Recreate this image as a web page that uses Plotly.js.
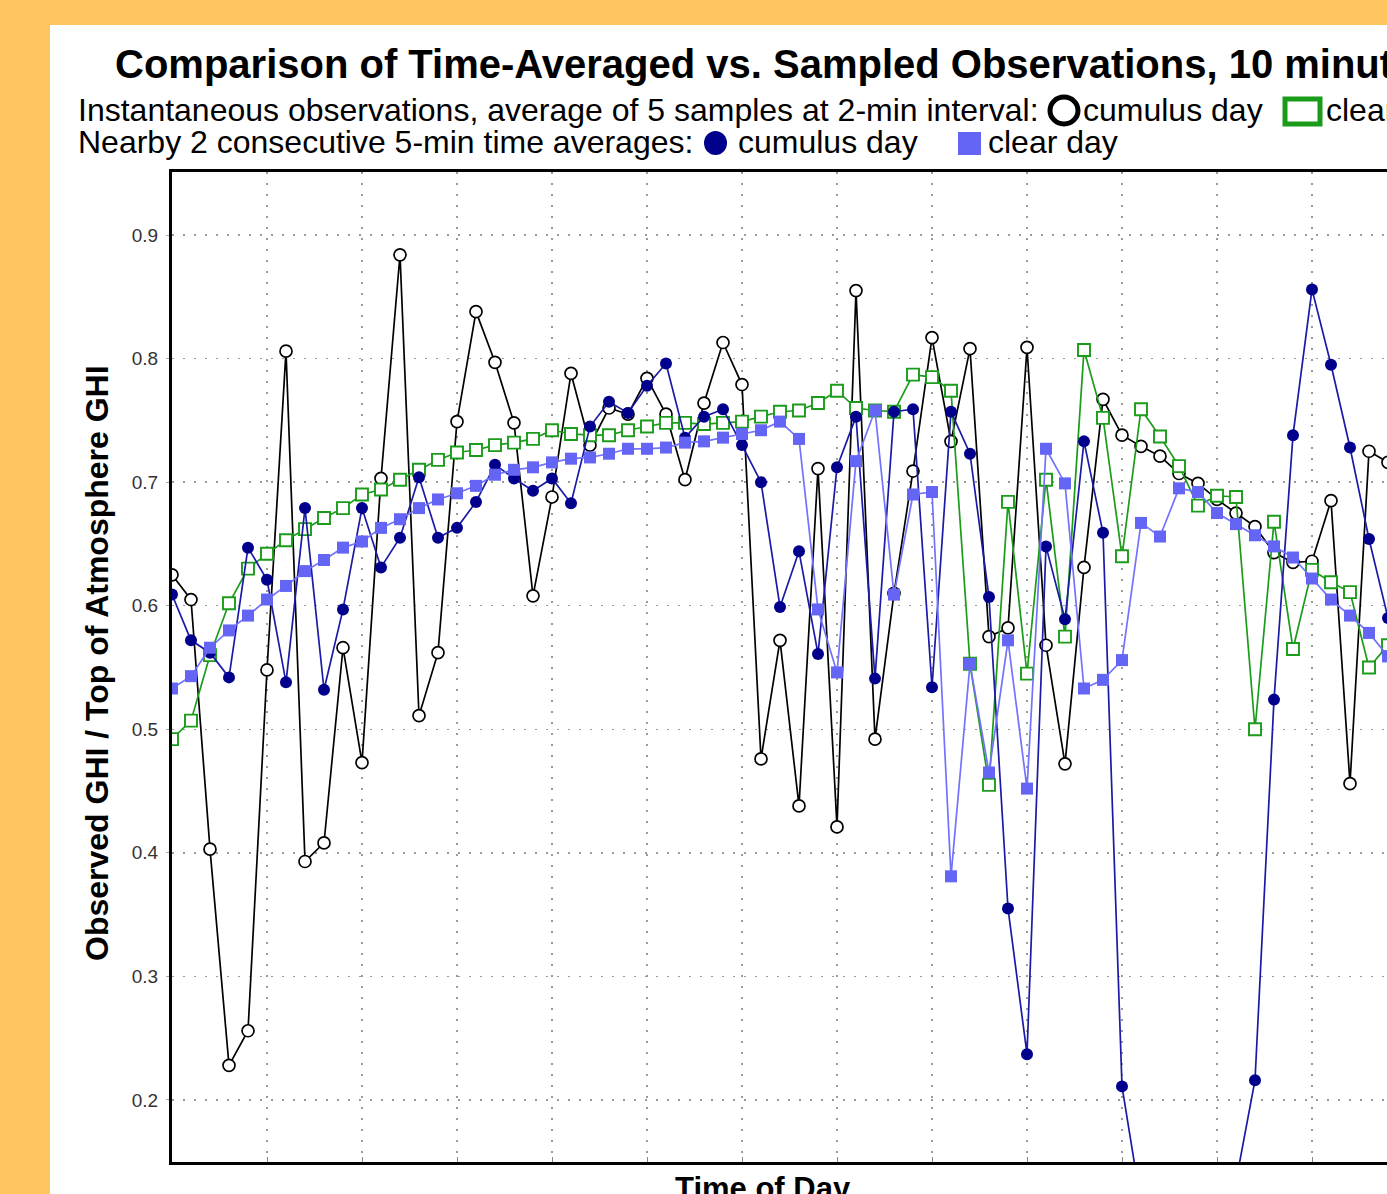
<!DOCTYPE html>
<html><head><meta charset="utf-8">
<script src="https://cdn.plot.ly/plotly-3.0.1.min.js"></script>
<style>
html,body{margin:0;padding:0;overflow:hidden;background:#FFC660;width:1387px;height:1194px;}
#panel{position:absolute;left:50px;top:25px;width:1337px;height:1169px;background:#fff;overflow:hidden;}
#chart{position:absolute;left:0;top:0;width:1370px;height:1169px;}
</style></head><body><div id="panel"><div id="chart"></div></div>
<script>
// minutes since start of window (2-min sampling)
const minutes = [0,2,4,6,8,10,12,14,16,18,20,22,24,26,28,30,32,34,36,38,40,42,44,46,48,50,52,54,56,58,60,62,64,66,68,70,72,74,76,78,80,82,84,86,88,90,92,94,96,98,100,102,104,106,108,110,112,114,116,118,120,122,124,126,128];

const cumulusInstant = [0.625,0.605,0.403,0.228,0.256,0.548,0.806,0.393,0.408,0.566,0.473,0.703,0.884,0.511,0.562,0.749,0.838,0.797,0.748,0.608,0.688,0.788,0.730,0.760,0.755,0.784,0.755,0.702,0.764,0.813,0.779,0.476,0.572,0.438,0.711,0.421,0.855,0.492,0.610,0.709,0.817,0.733,0.808,0.575,0.582,0.809,0.568,0.472,0.631,0.767,0.738,0.729,0.721,0.707,0.699,0.686,0.675,0.664,0.643,0.635,0.636,0.685,0.456,0.725,0.716];

const clearInstant = [0.492,0.507,0.560,0.602,0.630,0.642,0.653,0.662,0.671,0.679,0.690,0.694,0.702,0.710,0.718,0.724,0.726,0.730,0.732,0.735,0.742,0.739,0.738,0.738,0.742,0.745,0.748,0.748,0.747,0.748,0.749,0.753,0.757,0.758,0.764,0.774,0.760,0.758,0.757,0.787,0.785,0.774,0.553,0.455,0.684,0.545,0.702,0.575,0.807,0.752,0.640,0.759,0.737,0.713,0.681,0.689,0.688,0.500,0.668,0.565,0.629,0.619,0.611,0.550,0.568];

const cumulusAvg = [0.609,0.572,0.562,0.542,0.647,0.621,0.538,0.679,0.532,0.597,0.679,0.631,0.655,0.704,0.655,0.663,0.684,0.714,0.703,0.693,0.703,0.683,0.745,0.765,0.756,0.778,0.796,0.736,0.753,0.759,0.730,0.700,0.599,0.644,0.561,0.712,0.753,0.541,0.757,0.759,0.534,0.757,0.723,0.607,0.355,0.237,0.648,0.589,0.733,0.659,0.211,0.116,0.070,0.050,0.060,0.090,0.134,0.216,0.524,0.738,0.856,0.795,0.728,0.654,0.590];

const clearAvg = [0.533,0.543,0.566,0.580,0.592,0.605,0.616,0.628,0.637,0.647,0.652,0.663,0.670,0.679,0.686,0.691,0.697,0.706,0.710,0.712,0.716,0.719,0.720,0.723,0.727,0.727,0.728,0.732,0.733,0.736,0.739,0.742,0.749,0.735,0.597,0.546,0.717,0.758,0.609,0.690,0.692,0.381,0.553,0.465,0.572,0.452,0.727,0.699,0.533,0.540,0.556,0.667,0.656,0.695,0.692,0.675,0.666,0.657,0.648,0.639,0.622,0.605,0.592,0.578,0.559];

const titleText = "Comparison of Time-Averaged vs. Sampled Observations, 10 minute";
const legendLine1 = "Instantaneous observations, average of 5 samples at 2-min interval:";
const legendLine2 = "Nearby 2 consecutive 5-min time averages:";
const seriesNames = ["cumulus day", "clear day"];
const yTitle = "Observed GHI / Top of Atmosphere GHI";
const xTitle = "Time of Day";

// page-pixel -> paper helpers
const L = 122, T = 147, PW = 1248, PH = 990, OX = 50, OY = 25;
const fx = x => (x - OX - L) / PW;
const fy = y => 1 - (y - OY - T) / PH;

const FONT = "Liberation Sans, Arial, Helvetica, sans-serif";

const traces = [
  {x: minutes, y: cumulusInstant, name: "Instantaneous cumulus day", mode: "lines+markers",
   line: {color: "#000000", width: 1.7},
   marker: {symbol: "circle", size: 12, color: "#ffffff", line: {color: "#000000", width: 1.7}}},
  {x: minutes, y: clearInstant, name: "Instantaneous clear day", mode: "lines+markers",
   line: {color: "#1a9c1a", width: 1.7},
   marker: {symbol: "square", size: 12, color: "#ffffff", line: {color: "#1a9c1a", width: 1.9}}},
  {x: minutes, y: cumulusAvg, name: "Averaged cumulus day", mode: "lines+markers",
   line: {color: "#1a1aa6", width: 1.7},
   marker: {symbol: "circle", size: 12, color: "#00008c", line: {width: 0}}},
  {x: minutes, y: clearAvg, name: "Averaged clear day", mode: "lines+markers",
   line: {color: "#7272ff", width: 1.7},
   marker: {symbol: "square", size: 12, color: "#6464f5", line: {width: 0}}}
];

const ann = (text, x, y, size, opts) => Object.assign({
  text: text, xref: "paper", yref: "paper", x: fx(x), y: fy(y),
  xanchor: "left", yanchor: "middle", showarrow: false,
  font: {family: FONT, size: size, color: "#000"}
}, opts || {});

const layout = {
  width: 1370, height: 1169, autosize: false,
  margin: {l: L, r: 0, t: T, b: 32, pad: 0},
  paper_bgcolor: "#ffffff", plot_bgcolor: "#ffffff",
  showlegend: false,
  font: {family: FONT},
  xaxis: {
    range: [0, 131.368], tick0: 0, dtick: 10,
    showgrid: true, gridcolor: "#9a9a9a", gridwidth: 1.5, griddash: "2px,9px",
    showline: true, linecolor: "#000", linewidth: 3, mirror: true,
    ticks: "inside", ticklen: 5, tickcolor: "#888", tickwidth: 1,
    showticklabels: false, zeroline: false
  },
  yaxis: {
    range: [0.1498, 0.951], tick0: 0.2, dtick: 0.1, tickformat: ".1f",
    showgrid: true, gridcolor: "#9a9a9a", gridwidth: 1.5, griddash: "2px,9px",
    showline: true, linecolor: "#000", linewidth: 3, mirror: true,
    ticks: "outside", ticklen: 3, tickcolor: "#aaa", tickwidth: 1,
    ticklabelstandoff: 4,
    tickfont: {family: FONT, size: 19, color: "#333"},
    zeroline: false
  },
  annotations: [
    ann("<b>" + titleText + "</b>", 113, 64, 40),
    ann(legendLine1, 76, 110, 32),
    ann(seriesNames[0], 1081, 110, 32),
    ann(seriesNames[1], 1324, 110, 32),
    ann(legendLine2, 76, 142, 32),
    ann(seriesNames[0], 736, 142, 32),
    ann(seriesNames[1], 986, 142, 32),
    ann("<b>" + yTitle + "</b>", 97, 663, 32, {xanchor: "center", textangle: -90}),
    ann("<b>" + xTitle + "</b>", 763, 1188, 31, {xanchor: "center"})
  ],
  shapes: [
    {type: "circle", xref: "paper", yref: "paper", x0: fx(1050), x1: fx(1078), y0: fy(124), y1: fy(97),
     line: {color: "#000", width: 5}, fillcolor: "rgba(0,0,0,0)"},
    {type: "rect", xref: "paper", yref: "paper", x0: fx(1285), x1: fx(1320), y0: fy(124), y1: fy(99),
     line: {color: "#1a9c1a", width: 5}, fillcolor: "rgba(0,0,0,0)"},
    {type: "circle", xref: "paper", yref: "paper", x0: fx(704), x1: fx(727), y0: fy(155), y1: fy(131),
     line: {width: 0}, fillcolor: "#00008c"},
    {type: "rect", xref: "paper", yref: "paper", x0: fx(958), x1: fx(981), y0: fy(155), y1: fy(132),
     line: {width: 0}, fillcolor: "#6464f5"}
  ]
};

Plotly.newPlot("chart", traces, layout, {staticPlot: true, displayModeBar: false});
</script></body></html>
